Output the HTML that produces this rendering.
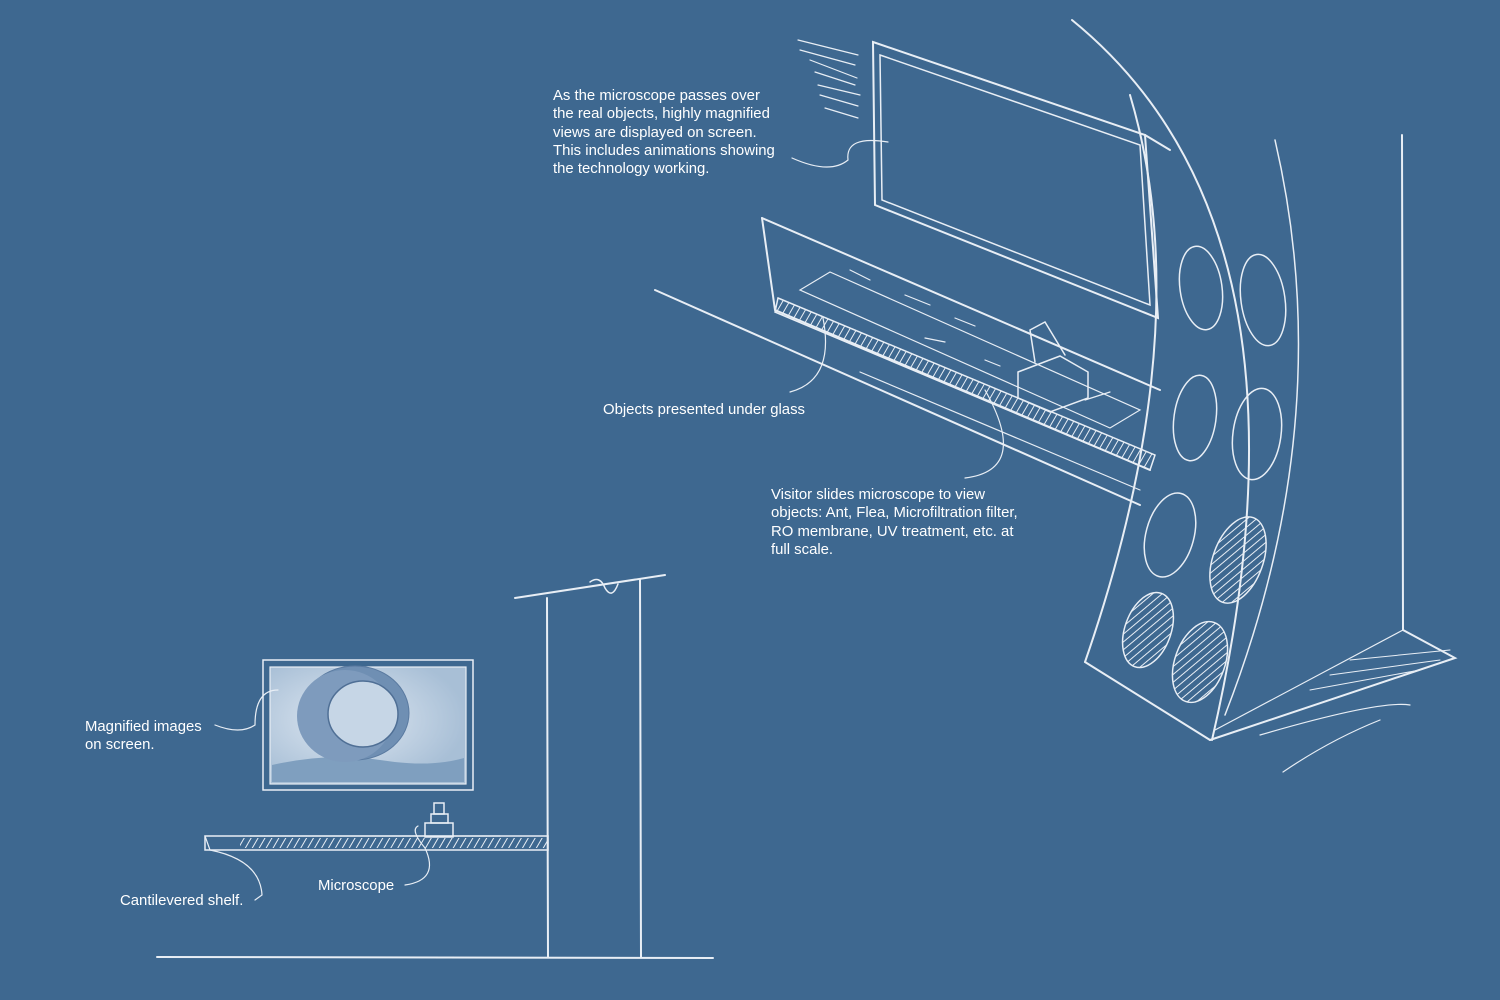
<!DOCTYPE html>
<html><head><meta charset="utf-8"><style>
html,body{margin:0;padding:0}
body{width:1500px;height:1000px;background:#3e6890;overflow:hidden;position:relative;font-family:"Liberation Sans",sans-serif;color:#fff}
.t{position:absolute;font-size:14.9px;line-height:18.3px;color:#fff}
svg{position:absolute;left:0;top:0}
</style></head><body>
<svg width="1500" height="1000" viewBox="0 0 1500 1000" fill="none" stroke="#e8eef5" stroke-width="2" stroke-linecap="round">
<defs>
<pattern id="h" width="6" height="6" patternUnits="userSpaceOnUse" patternTransform="rotate(30)"><line x1="0" y1="0" x2="0" y2="6" stroke="#e8eef5" stroke-width="2"/></pattern>
<radialGradient id="g" cx="0.4" cy="0.45" r="0.6"><stop offset="0" stop-color="#dfe8f2"/><stop offset="1" stop-color="#a8bfd6"/></radialGradient>
</defs>
<path d="M1072 20 Q1330 230 1212 740"/>
<path d="M1130 95 Q1200 330 1085 662"/>
<path d="M1085 662 L1210 740"/>
<path d="M1275 140 Q1340 420 1225 715" stroke-width="1.5"/>
<g stroke-width="1.5">
<ellipse cx="1201" cy="288" rx="21" ry="42" transform="rotate(-8 1201 288)"/>
<ellipse cx="1263" cy="300" rx="22" ry="46" transform="rotate(-8 1263 300)"/>
<ellipse cx="1195" cy="418" rx="21" ry="43" transform="rotate(8 1195 418)"/>
<ellipse cx="1257" cy="434" rx="24" ry="46" transform="rotate(8 1257 434)"/>
<ellipse cx="1170" cy="535" rx="24" ry="43" transform="rotate(15 1170 535)"/>
<ellipse cx="1238" cy="560" rx="25" ry="45" transform="rotate(20 1238 560)" fill="url(#h)"/>
<ellipse cx="1148" cy="630" rx="23" ry="39" transform="rotate(20 1148 630)" fill="url(#h)"/>
<ellipse cx="1200" cy="662" rx="25" ry="42" transform="rotate(20 1200 662)" fill="url(#h)"/>
</g>
<path d="M1402 135 L1403 630"/>
<path d="M1403 630 L1455 658 L1210 740"/>
<path d="M1403 630 L1215 730" stroke-width="1.2"/>
<path d="M1260 735 Q1380 700 1410 705" stroke-width="1.2"/>
<path d="M1283 772 Q1330 740 1380 720" stroke-width="1.2"/>
<path d="M1350 660 L1450 650 M1330 675 L1440 660 M1310 690 L1420 670" stroke-width="1"/>
<path d="M873 42 L1145 135 L1158 318 L875 205 Z"/>
<path d="M880 55 L1140 145 L1150 305 L882 200 Z" stroke-width="1.5"/>
<path d="M1145 135 L1170 150" />
<path d="M762 218 L1160 390"/>
<path d="M762 218 L775 310"/>
<path d="M775 310 L1150 470"/>
<path d="M778 298 L1155 455 L1150 470 L775 312 Z" fill="url(#h)" stroke-width="1.5"/>
<path d="M655 290 L1140 505"/>
<path d="M860 372 L1140 490" stroke-width="1.2"/>
<path d="M800 290 L830 272 L1140 410 L1110 428 Z" stroke-width="1.2"/>
<path d="M1018 372 L1060 356 L1088 372 L1088 398 L1050 412 L1018 398 Z" stroke-width="1.5"/>
<path d="M1035 362 L1030 330 L1045 322 L1065 355" stroke-width="1.5"/>
<path d="M1085 400 L1110 392 M850 270 L870 280 M905 295 L930 305 M955 318 L975 326 M925 338 L945 342 M985 360 L1000 366" stroke-width="1.2"/>
<path d="M798 40 L858 55 M800 50 L855 65 M810 60 L857 78 M815 72 L855 85 M818 85 L860 95 M820 95 L858 106 M825 108 L858 118" stroke-width="1.2"/>
<path d="M792 158 Q830 175 848 160 Q845 135 888 142" stroke-width="1.2"/>
<path d="M823 318 Q835 380 790 392" stroke-width="1.2"/>
<path d="M985 390 Q1030 470 965 478" stroke-width="1.2"/>
<path d="M157 957 L713 958"/>
<path d="M547 598 L548 957"/>
<path d="M640 580 L641 957"/>
<path d="M515 598 L665 575"/>
<path d="M590 582 Q600 575 605 588 Q612 600 618 584" stroke-width="1.5"/>
<rect x="263" y="660" width="210" height="130" stroke-width="1.5"/>
<rect x="270" y="667" width="196" height="117" fill="url(#g)" stroke-width="1.2"/>
<path d="M272 765 Q330 752 380 760 Q430 768 464 758 L464 782 L272 782 Z" fill="#7f9fbf" stroke="none"/>
<ellipse cx="355" cy="713" rx="54" ry="47" fill="#6f8fb3" stroke="#5a7aa0" stroke-width="1"/>
<ellipse cx="345" cy="716" rx="48" ry="46" fill="#7e9bbd" stroke="none"/>
<ellipse cx="363" cy="714" rx="35" ry="33" fill="#c6d6e6" stroke="#4f6f95" stroke-width="1.5"/>
<path d="M205 836 L548 836 L548 850 L205 850 Z" stroke-width="1.5"/>
<rect x="240" y="838" width="308" height="10" fill="url(#h)" stroke="none"/>
<path d="M205 836 L210 850 M250 836 L500 836" stroke-width="1.2"/>
<rect x="425" y="823" width="28" height="14" stroke-width="1.5"/>
<rect x="431" y="814" width="17" height="9" stroke-width="1.5"/>
<rect x="434" y="803" width="10" height="11" stroke-width="1.5"/>
<path d="M215 725 Q240 735 255 725 Q255 690 278 690" stroke-width="1.2"/>
<path d="M210 850 Q260 860 262 895 L255 900" stroke-width="1.2"/>
<path d="M405 885 Q440 880 425 848 Q410 830 418 826" stroke-width="1.2"/>
</svg>
<div class="t" style="left:553px;top:87px">As the microscope passes over<br>the real objects, highly magnified<br>views are displayed on screen.<br>This includes animations showing<br>the technology working.</div>
<div class="t" style="left:603px;top:401px">Objects presented under glass</div>
<div class="t" style="left:771px;top:486px">Visitor slides microscope to view<br>objects: Ant, Flea, Microfiltration filter,<br>RO membrane, UV treatment, etc. at<br>full scale.</div>
<div class="t" style="left:85px;top:718px">Magnified images<br>on screen.</div>
<div class="t" style="left:318px;top:877px">Microscope</div>
<div class="t" style="left:120px;top:892px">Cantilevered shelf.</div>
</body></html>
